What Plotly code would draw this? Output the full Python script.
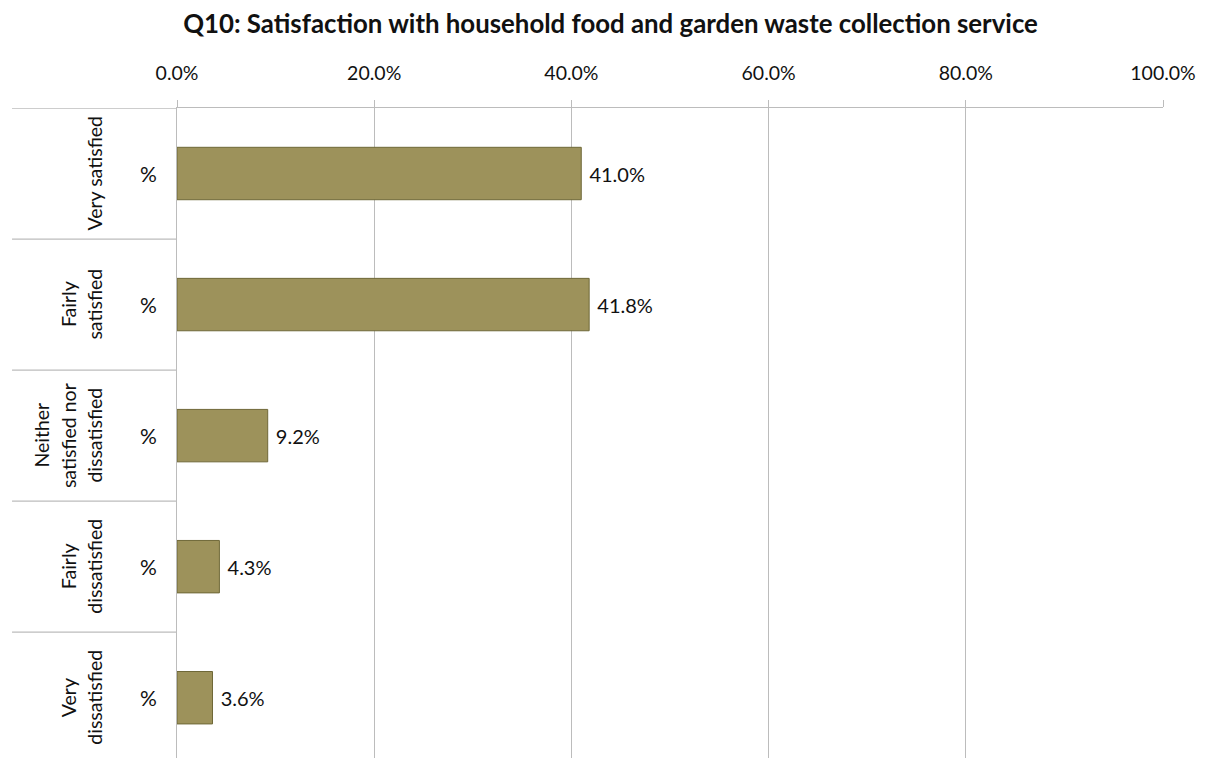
import plotly.graph_objects as go

categories = ["Very satisfied", "Fairly satisfied", "Neither satisfied nor dissatisfied",
              "Fairly dissatisfied", "Very dissatisfied"]
cat_lines = [["Very satisfied"], ["Fairly", "satisfied"], ["Neither", "satisfied nor", "dissatisfied"],
             ["Fairly", "dissatisfied"], ["Very", "dissatisfied"]]
values = [0.410, 0.418, 0.092, 0.043, 0.036]
tick_vals = [0, 0.2, 0.4, 0.6, 0.8, 1.0]

FONT = "Lato, 'Open Sans', sans-serif"
GRID = "#bcbcbc"
PLOT_W = 986.0

fig = go.Figure()
fig.add_trace(go.Bar(
    y=list(range(len(categories))), x=values, orientation="h",
    width=0.4,
    marker=dict(color="#9d925b", line=dict(color="#6f6838", width=1)),
    text=["\u00a0" + f"{v*100:.1f}%" for v in values], textposition="outside",
    textfont=dict(family=FONT, size=20, color="#111"),
    cliponaxis=False, hoverinfo="skip",
))

ann = []
LINE_GAP = 26.5
for i, lines in enumerate(cat_lines):
    n = len(lines)
    for j, line in enumerate(lines):
        px = 95 - (n - 1 - j) * LINE_GAP
        ann.append(dict(x=(px - 177) / PLOT_W, y=i, xref="paper", yref="y", text=line,
                        textangle=-90, showarrow=False,
                        font=dict(family=FONT, size=19.5, color="#111"),
                        xanchor="center", yanchor="middle"))
    ann.append(dict(x=-0.029, y=i, xref="paper", yref="y", text="%",
                    showarrow=False, font=dict(family=FONT, size=21, color="#111"),
                    xanchor="center", yanchor="middle"))

shapes = []
for k in range(len(categories)):
    b = k - 0.5
    shapes.append(dict(type="line", xref="paper", yref="y", x0=-0.1673, x1=0, y0=b, y1=b,
                       line=dict(color=GRID, width=1.3)))

fig.update_layout(
    width=1209, height=758,
    margin=dict(l=177, r=46, t=108, b=0),
    paper_bgcolor="white", plot_bgcolor="white",
    title=dict(text="<b>Q10: Satisfaction with household food and garden waste collection service</b>",
               x=0.505, xanchor="center", y=0.969, yanchor="middle",
               font=dict(family=FONT, size=25.8, color="#111")),
    xaxis=dict(side="top", range=[0, 1], tickvals=tick_vals, tickformat=".1%",
               showgrid=True, gridcolor=GRID, gridwidth=1.3, zeroline=False,
               showline=True, linecolor=GRID, linewidth=1.3,
               ticks="outside", ticklen=7, tickcolor=GRID, tickwidth=1.3,
               ticklabelstandoff=12,
               tickfont=dict(family=FONT, size=19.5, color="#111")),
    yaxis=dict(range=[4.46, -0.5], showticklabels=False, showgrid=False, zeroline=False,
               showline=True, linecolor=GRID, linewidth=1.3, ticks=""),
    annotations=ann, shapes=shapes, showlegend=False,
)

fig.write_html("out.html")
